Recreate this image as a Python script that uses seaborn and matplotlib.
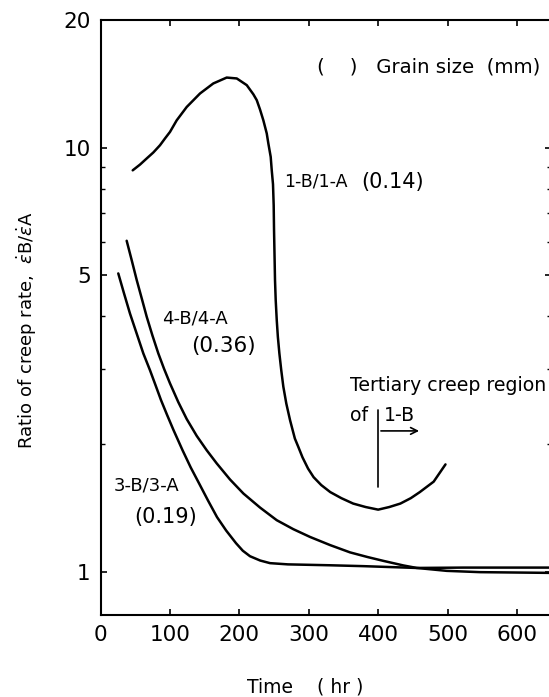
import numpy as np
import pandas as pd
import matplotlib
matplotlib.use("Agg")
import matplotlib.pyplot as plt
import matplotlib.ticker as mticker
import seaborn as sns

# ---- data ----
t_1 = [46.4, 56.9, 66.6, 76.1, 85.7, 92.9, 100.1, 109.8, 124.2, 143.4, 162.5,
       181.8, 196.3, 210.7, 220.2, 225.1, 229.8, 234.6, 239.5, 241.8, 245.2,
       246.7, 248.5, 249.5, 250.0, 250.7, 251.4, 252.4, 253.9, 255.5, 257.7,
       260.4, 263.4, 267.7, 273.1, 280.0, 285.0, 291.0, 299.0, 307.0, 318.0,
       331.0, 347.0, 364.0, 382.0, 400.0, 416.0, 432.0, 447.0, 460.0, 480.0, 497.0]
r_1 = [8.84, 9.12, 9.43, 9.74, 10.13, 10.51, 10.89, 11.6, 12.47, 13.42, 14.17,
       14.63, 14.56, 14.04, 13.36, 12.94, 12.3, 11.6, 10.8, 10.23, 9.51,
       8.84, 8.2, 7.31, 6.39, 5.58, 4.87, 4.37, 3.92, 3.58, 3.27,
       2.985, 2.73, 2.49, 2.275, 2.06, 1.968, 1.86, 1.75, 1.67, 1.60,
       1.54, 1.49, 1.447, 1.42, 1.40, 1.42, 1.447, 1.49, 1.54, 1.63, 1.79]

t_4 = [37.7, 44.9, 52.2, 59.4, 66.6, 74.7, 83.3, 91.5, 100.1, 112.1, 124.2,
       138.6, 153.0, 167.4, 186.6, 205.9, 229.8, 253.9, 277.8, 301.9, 330.7,
       359.5, 385.0, 407.5, 436.3, 455.6, 498.8, 546.8, 649.0]
r_4 = [6.03, 5.43, 4.87, 4.41, 3.99, 3.61, 3.27, 3.01, 2.78, 2.51, 2.29,
       2.09, 1.933, 1.80, 1.649, 1.528, 1.416, 1.322, 1.259, 1.207, 1.155,
       1.11, 1.082, 1.06, 1.034, 1.02, 1.004, 0.997, 0.993]

t_3 = [25.6, 33.9, 42.5, 52.2, 61.7, 71.3, 79.0, 87.2, 96.0, 105.0, 118.2,
       130.0, 141.9, 155.0, 167.9, 181.0, 195.2, 205.0, 215.4, 230.0, 244.2,
       270.0, 330.0, 379.0, 455.0, 523.0, 649.0]
r_3 = [5.05, 4.53, 4.06, 3.64, 3.27, 2.985, 2.76, 2.537, 2.34, 2.16, 1.933,
       1.76, 1.616, 1.47, 1.344, 1.25, 1.167, 1.12, 1.087, 1.062, 1.047,
       1.04, 1.035, 1.03, 1.02, 1.022, 1.022]

curve_names = ["1-B/1-A", "4-B/4-A", "3-B/3-A"]
x_ticks = [0, 100, 200, 300, 400, 500, 600]
y_major = [1, 5, 10, 20]
y_minor = [2, 3, 4, 6, 7, 8, 9]

df = pd.concat([
    pd.DataFrame({"time": t_1, "ratio": r_1, "curve": curve_names[0]}),
    pd.DataFrame({"time": t_4, "ratio": r_4, "curve": curve_names[1]}),
    pd.DataFrame({"time": t_3, "ratio": r_3, "curve": curve_names[2]}),
])

sns.set_theme(style="white")
plt.rcParams["font.family"] = ["DejaVu Sans"]
plt.rcParams["text.color"] = "black"
plt.rcParams["axes.labelcolor"] = "black"
plt.rcParams["mathtext.fontset"] = "dejavusans"

fig = plt.figure(figsize=(5.49, 6.97), dpi=100)
ax = fig.add_axes([100.5 / 549, (697 - 615) / 697, 450.5 / 549, 595 / 697])

sns.lineplot(data=df, x="time", y="ratio", units="curve", estimator=None,
             sort=False, color="black", lw=1.8, ax=ax, legend=False)

ax.set_yscale("log")
ax.set_xlim(0, 649)
ax.set_ylim(0.79, 20)

ax.xaxis.set_major_locator(mticker.FixedLocator(x_ticks))
ax.xaxis.set_minor_locator(mticker.NullLocator())
ax.set_xticklabels([str(v) for v in x_ticks])
ax.yaxis.set_major_locator(mticker.FixedLocator(y_major))
ax.yaxis.set_minor_locator(mticker.FixedLocator(y_minor))
ax.yaxis.set_major_formatter(mticker.FixedFormatter([str(v) for v in y_major]))
ax.yaxis.set_minor_formatter(mticker.NullFormatter())

ax.tick_params(axis="both", which="both", direction="in", colors="black",
               top=True, right=True, left=True, bottom=True, labelsize=15.5)
ax.tick_params(axis="both", which="major", length=4.5, width=1.2)
ax.tick_params(axis="y", which="minor", length=3, width=1.0)
ax.tick_params(axis="x", which="major", pad=7)
ax.tick_params(axis="y", which="major", pad=7)
for sp in ax.spines.values():
    sp.set_color("black")
    sp.set_linewidth(1.5)
ax.set_xlabel("")
ax.set_ylabel("")

# annotations
ax.text(312, 15.5, "(    )   Grain size  (mm)", fontsize=14.2, va="center", ha="left")
ax.text(264, 8.3, "1-B/1-A", fontsize=12.5, va="center", ha="left")
ax.text(375, 8.3, "(0.14)", fontsize=15, va="center", ha="left")
ax.text(88, 3.95, "4-B/4-A", fontsize=13, va="center", ha="left")
ax.text(130, 3.40, "(0.36)", fontsize=15.5, va="center", ha="left")
ax.text(19, 1.6, "3-B/3-A", fontsize=13, va="center", ha="left")
ax.text(49, 1.346, "(0.19)", fontsize=15, va="center", ha="left")
ax.text(360, 2.75, "Tertiary creep region", fontsize=13.6, va="center", ha="left")
ax.text(360, 2.34, "of", fontsize=13.6, va="center", ha="left")
ax.text(408, 2.34, "1-B", fontsize=13.6, va="center", ha="left")
ax.plot([400, 400], [2.40, 1.584], color="black", lw=1.2)
ax.annotate("", xy=(463, 2.147), xytext=(400, 2.147),
            arrowprops=dict(arrowstyle="->", color="black", lw=1.2))

fig.text(305 / 549, 1 - 687 / 697, "Time    ( hr )", fontsize=13.5,
         ha="center", va="center")
fig.text(27 / 549, 1 - 330 / 697,
         r"Ratio of creep rate,  $\dot{\varepsilon}$B/$\dot{\varepsilon}$A",
         fontsize=13, rotation=90, ha="center", va="center")

fig.savefig("out.png", dpi=100)
